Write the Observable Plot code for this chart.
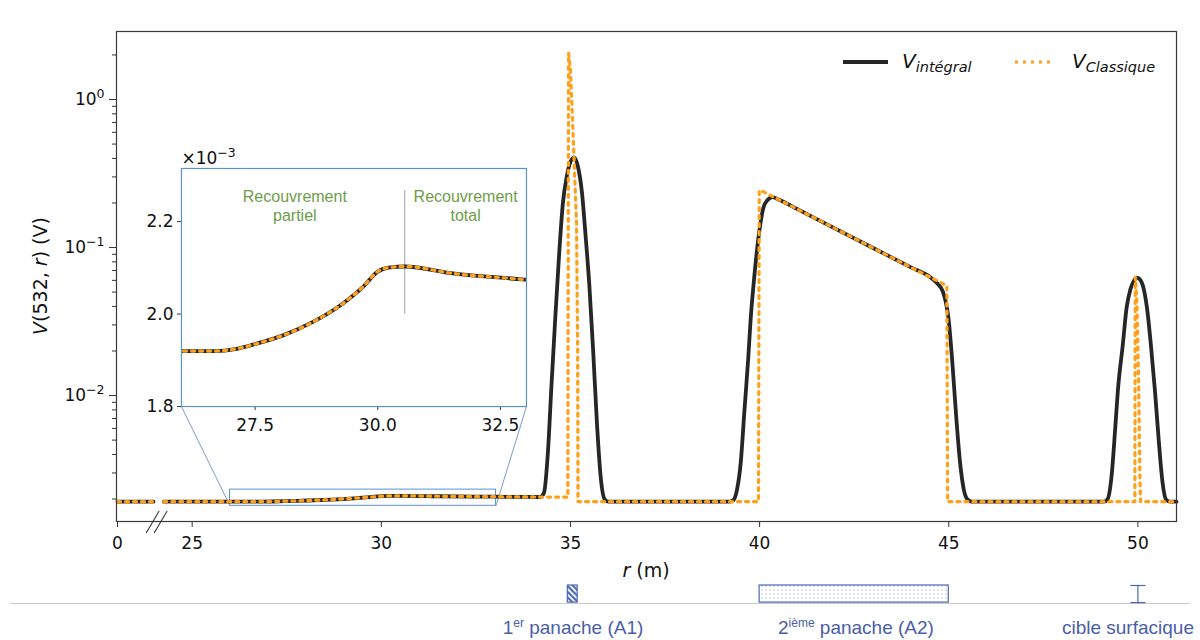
<!DOCTYPE html>
<html><head><meta charset="utf-8">
<script src="https://cdn.jsdelivr.net/npm/d3@7"></script>
<script src="https://cdn.jsdelivr.net/npm/@observablehq/plot@0.6"></script>
<style>
html,body{margin:0;padding:0;background:#fff;}
#wrap{position:relative;width:1200px;height:640px;overflow:hidden;background:#fff;}
#wrap svg{position:absolute;left:0;overflow:visible;background:transparent;}
</style></head><body><div id="wrap"></div>
<script>
// ---------------- data ----------------
// V_intégral (black solid); NaN marks the axis break
const r_integral = [0, 1, NaN, 24.25, 26.0, 26.65, 27.13, 27.53, 28.07, 28.68, 29.29, 29.70, 30.0, 30.25, 30.55, 31.53, 32.95, 34.0, 34.2,
  34.3, 34.4, 34.5, 34.6, 34.7, 34.8, 34.9, 35.0, 35.1, 35.2, 35.3, 35.4, 35.5, 35.6, 35.7, 35.8, 35.9, 36.0,
  39.2, 39.3, 39.4, 39.5, 39.6, 39.7, 39.76, 39.85, 39.97, 40.1, 40.2, 40.34, 40.5, 41.0, 42.0, 43.0, 44.0, 44.52, 44.7, 44.85, 45.0, 45.1, 45.2, 45.3, 45.4, 45.5, 45.6,
  49.1, 49.2, 49.3, 49.4, 49.47, 49.6, 49.7, 49.8, 49.9, 49.97, 50.05, 50.15, 50.24, 50.35, 50.45, 50.55, 50.65, 50.75, 50.85, 51.02];
const v_integral = [0.00192, 0.00192, NaN, 0.00192, 0.00192, 0.00192, 0.001925, 0.001936, 0.001954, 0.001983, 0.002023, 0.002059, 0.002092, 0.002101, 0.002103, 0.002088, 0.002075, 0.002065, 0.002062,
  0.0022, 0.004, 0.012, 0.034, 0.09, 0.2, 0.3, 0.38, 0.407, 0.35, 0.24, 0.12, 0.055, 0.02, 0.0065, 0.0028, 0.002, 0.00192,
  0.00192, 0.00196, 0.0023, 0.0035, 0.008, 0.018, 0.032, 0.06, 0.117, 0.186, 0.208, 0.219, 0.211, 0.1816, 0.1343, 0.0993, 0.0734, 0.0627, 0.057, 0.050, 0.032, 0.016, 0.007, 0.0035, 0.0023, 0.00198, 0.00192,
  0.00192, 0.002, 0.0028, 0.006, 0.0108, 0.022, 0.039, 0.052, 0.06, 0.0627, 0.061, 0.053, 0.039, 0.021, 0.0108, 0.005, 0.0026, 0.00197, 0.00192, 0.00192];

// V_Classique (orange dotted)
const r_classique = [0, 1, NaN, 24.25, 26.0, 26.65, 27.13, 27.53, 28.07, 28.68, 29.29, 29.70, 30.0, 30.25, 30.55, 31.53, 32.95, 34.0, 34.2, 34.93,
  34.95, 35.0, 35.08, 35.16, 35.19, 35.2, 39.97, 39.99, 40.03, 41.0, 42.0, 43.0, 44.0, 44.95, 44.97,
  49.92, 49.93, 49.97, 50.02, 50.05, 50.07, 51.02];
const v_classique = [0.00192, 0.00192, NaN, 0.00192, 0.00192, 0.00192, 0.001925, 0.001936, 0.001954, 0.001983, 0.002023, 0.002059, 0.002092, 0.002101, 0.002103, 0.002088, 0.002075, 0.002065, 0.002062, 0.00206,
  2.05, 1.6, 0.5, 0.145, 0.02, 0.00192, 0.00192, 0.243, 0.243, 0.1816, 0.1343, 0.0993, 0.0734, 0.0552, 0.00192,
  0.00192, 0.063, 0.045, 0.012, 0.003, 0.00192, 0.00192];

// axes
const xTicks = [0, 25, 30, 35, 40, 45, 50];
const yMajor = [1e-2, 1e-1, 1];
const yMinor = [2e-3,3e-3,4e-3,5e-3,6e-3,7e-3,8e-3,9e-3, 2e-2,3e-2,4e-2,5e-2,6e-2,7e-2,8e-2,9e-2, 2e-1,3e-1,4e-1,5e-1,6e-1,7e-1,8e-1,9e-1, 2];
const xDomain = [0, 1, 24.25, 51.02];          // broken axis: 0–1 then 24.25–51.02
const yDomain = [1.41e-3, 2.88];

// inset (zoom) region and its placement in main data coordinates
const insetX = [26, 33.03];
const insetY = [1.8e-3, 2.315e-3];
const insetXTicks = [27.5, 30.0, 32.5];
const insetYTicks = [1.8e-3, 2.0e-3, 2.2e-3];
const insetPlace = {r1: 24.717, r2: 33.837, vBottom: 8.43e-3, vTop: 0.342};
const transitionR = 30.55;
const transitionV = [2.0e-3, 2.2675e-3];
const insetNotes = [
  {r: 28.31, v: 2.2004e-3, text: "Recouvrement\npartiel"},
  {r: 31.79, v: 2.2004e-3, text: "Recouvrement\ntotal"}
];

// bottom schematic
const plumeA1 = [{r1: 34.93, r2: 35.19}];
const plumeA2 = [{r1: 40.0, r2: 45.0}];
const targetR = 50;
const schemLabels = [
  {r: 35.08, main: "1", sup: "er", rest: " panache (A1)"},
  {r: 42.56, main: "2", sup: "ième", rest: " panache (A2)"},
  {r: 49.75, main: "cible surfacique", sup: "", rest: ""}
];

// ---------------- styles ----------------
const dark = "#262626", orange = "#ffa01c", blue = "#5b93cf", green = "#6e9d4a", schemBlue = "#4d66b6", schemText = "#4a5ea8";
const dots = "3 5";
const integral = r_integral.map((r, i) => ({r, v: v_integral[i]}));
const classique = r_classique.map((r, i) => ({r, v: v_classique[i]}));
const xRange = [117, 153, 163.3, 1176];
const expFmt = d => "10^" + Math.round(Math.log10(d));
const baseStyle = {fontFamily: "DejaVu Sans", fontSize: "17px", color: "#111", background: "transparent", overflow: "visible"};

const wrap = document.getElementById("wrap");

// ---------------- main plot ----------------
const main = Plot.plot({
  width: 1200, height: 580,
  marginLeft: 116, marginRight: 24, marginTop: 31, marginBottom: 59,
  style: baseStyle,
  x: {type: "linear", domain: xDomain, range: xRange},
  y: {type: "log", domain: yDomain, range: [521, 31]},
  marks: [
    Plot.axisX({ticks: xTicks, tickSize: 6, tickPadding: 9, tickFormat: d => String(d), label: null, stroke: "#333"}),
    Plot.axisY({ticks: yMinor, tickSize: 4, tickFormat: () => "", label: null, stroke: "#333"}),
    Plot.axisY({ticks: yMajor, tickSize: 7, tickPadding: 5, tickFormat: expFmt, label: null, stroke: "#333"}),
    Plot.rect([{}], {x1: insetX[0], x2: insetX[1], y1: insetY[0], y2: insetY[1], fill: "none", stroke: blue, strokeWidth: 1}),
    Plot.link([
      {x1: insetX[0], y1: insetY[0], x2: insetPlace.r1, y2: insetPlace.vBottom},
      {x1: insetX[1], y1: insetY[0], x2: insetPlace.r2, y2: insetPlace.vBottom}
    ], {x1: "x1", y1: "y1", x2: "x2", y2: "y2", stroke: "#7d9cc9", strokeWidth: 1}),
    Plot.line(integral, {x: "r", y: "v", stroke: dark, strokeWidth: 3.8, curve: "monotone-x"}),
    Plot.line(classique, {x: "r", y: "v", stroke: orange, strokeWidth: 3.2, strokeDasharray: dots}),
    Plot.frame({stroke: "#3a3a3a", strokeWidth: 1.2})
  ]
});
main.style.top = "0px";
wrap.appendChild(main);

const sx = main.scale("x"), sy = main.scale("y");
const svgM = d3.select(main);

// power-of-ten tick labels with real superscripts
svgM.selectAll("text").each(function() {
  const s = this.textContent;
  const m = /^10\^(-?\d+)$/.exec(s);
  if (!m) return;
  const t = d3.select(this);
  t.text("10");
  t.append("tspan").attr("font-size", 12.5).attr("dy", -7).text(m[1].replace("-", "−"));
});

// axis break marks
const bx = (sx.apply(1) + sx.apply(24.25)) / 2;
[-5, 3].forEach(k => {
  svgM.append("line").attr("x1", bx + k - 7).attr("y1", 533).attr("x2", bx + k + 6).attr("y2", 511)
    .attr("stroke", "#333").attr("stroke-width", 1.1);
});

// y label
const yl = svgM.append("text").attr("transform", "translate(47,276) rotate(-90)")
  .attr("text-anchor", "middle").attr("font-family", "DejaVu Sans").attr("font-size", 19).attr("fill", "#111");
yl.append("tspan").attr("font-style", "italic").text("V");
yl.append("tspan").text("(532, ");
yl.append("tspan").attr("font-style", "italic").text("r");
yl.append("tspan").text(") (V)");

// x label
const xl = svgM.append("text").attr("x", (116 + 1176) / 2).attr("y", 577)
  .attr("text-anchor", "middle").attr("font-family", "DejaVu Sans").attr("font-size", 19).attr("fill", "#111");
xl.append("tspan").attr("font-style", "italic").text("r");
xl.append("tspan").text(" (m)");

// legend
const lg = svgM.append("g").attr("font-family", "DejaVu Sans").attr("fill", "#111").attr("text-anchor", "start");
lg.append("line").attr("x1", 843).attr("x2", 888).attr("y1", 62).attr("y2", 62).attr("stroke", dark).attr("stroke-width", 3.8);
const t1 = lg.append("text").attr("x", 902).attr("y", 68).attr("font-style", "italic").attr("text-anchor", "start");
t1.append("tspan").attr("font-size", 20).text("V");
t1.append("tspan").attr("font-size", 14.5).attr("dy", 4).text("intégral");
lg.append("line").attr("x1", 1015).attr("x2", 1053).attr("y1", 62).attr("y2", 62).attr("stroke", orange).attr("stroke-width", 3.2).attr("stroke-dasharray", dots);
const t2 = lg.append("text").attr("x", 1072).attr("y", 68).attr("font-style", "italic").attr("text-anchor", "start");
t2.append("tspan").attr("font-size", 20).text("V");
t2.append("tspan").attr("font-size", 14.5).attr("dy", 4).text("Classique");

// ---------------- inset ----------------
const L = sx.apply(insetPlace.r1), R = sx.apply(insetPlace.r2), T = sy.apply(insetPlace.vTop), B = sy.apply(insetPlace.vBottom);
const inIns = d => d.r >= 24 && d.r <= 34.3;
const inset = Plot.plot({
  width: 1200, height: 580,
  marginLeft: L, marginRight: 1200 - R, marginTop: T, marginBottom: 580 - B,
  style: baseStyle,
  x: {domain: insetX},
  y: {domain: insetY},
  marks: [
    Plot.frame({fill: "#fff", stroke: "none"}),
    Plot.axisX({ticks: insetXTicks, tickSize: 4, tickPadding: 8, tickFormat: d3.format(".1f"), label: null, stroke: "#333"}),
    Plot.axisY({ticks: insetYTicks, tickSize: 4, tickPadding: 4, tickFormat: d => (d * 1e3).toFixed(1), label: null, stroke: "#333"}),
    Plot.ruleX([transitionR], {y1: transitionV[0], y2: transitionV[1], stroke: "#a0a0a0", strokeWidth: 1}),
    Plot.text(insetNotes, {x: "r", y: "v", text: "text", fill: green, fontFamily: "Liberation Sans", fontSize: 16, lineAnchor: "bottom", lineHeight: 1.2}),
    Plot.line(integral.filter(inIns), {x: "r", y: "v", stroke: dark, strokeWidth: 3.8, curve: "monotone-x", clip: true}),
    Plot.line(classique.filter(inIns), {x: "r", y: "v", stroke: orange, strokeWidth: 3.2, strokeDasharray: dots, curve: "monotone-x", clip: true}),
    Plot.text(["×10^-3"], {frameAnchor: "top-left", text: d => d, textAnchor: "start", lineAnchor: "bottom", dy: -4, fontSize: 17, fill: "#111"}),
    Plot.frame({stroke: blue, strokeWidth: 1.2})
  ]
});
inset.style.top = "0px";
wrap.appendChild(inset);
d3.select(inset).selectAll("text").each(function() {
  if (this.textContent !== "×10^-3") return;
  const t = d3.select(this);
  t.text("×10");
  t.append("tspan").attr("font-size", 12.5).attr("dy", -7).text("−3");
});

// ---------------- bottom schematic ----------------
const schem = Plot.plot({
  width: 1200, height: 60,
  marginLeft: 10, marginRight: 10, marginTop: 5, marginBottom: 37,
  style: baseStyle,
  x: {type: "linear", domain: xDomain, range: xRange, axis: null},
  y: {domain: [0, 1], axis: null},
  marks: [
    Plot.ruleY([0], {stroke: "#c9c9c9", strokeWidth: 1}),
    Plot.rect(plumeA1, {x1: "r1", x2: "r2", y1: 0.05, y2: 1, fill: "url(#hatchA1)", stroke: schemBlue, strokeWidth: 1.2}),
    Plot.rect(plumeA2, {x1: "r1", x2: "r2", y1: 0.05, y2: 1, fill: "url(#dotsA2)", stroke: schemBlue, strokeWidth: 1.2}),
    Plot.ruleX([targetR], {y1: 0.05, y2: 1, stroke: schemBlue, strokeWidth: 1.2}),
    Plot.link([{a: targetR - 0.2, b: targetR + 0.2, y: 1}, {a: targetR - 0.2, b: targetR + 0.2, y: 0.05}], {x1: "a", x2: "b", y1: "y", y2: "y", stroke: schemBlue, strokeWidth: 1.2})
  ]
});
schem.style.top = "580px";
wrap.appendChild(schem);
const svgS = d3.select(schem);
svgS.insert("defs", ":first-child").html(
  `<pattern id="hatchA1" patternUnits="userSpaceOnUse" width="4" height="4" patternTransform="rotate(-45)"><rect width="4" height="4" fill="#fff"/><rect x="0" y="0" width="2.2" height="4" fill="${schemBlue}"/></pattern>` +
  `<pattern id="dotsA2" patternUnits="userSpaceOnUse" width="4" height="4"><rect width="4" height="4" fill="#fff"/><circle cx="2" cy="2" r="0.65" fill="#9fb0dc"/></pattern>`);
const ssx = schem.scale("x");
schemLabels.forEach(d => {
  const t = svgS.append("text").attr("x", ssx.apply(d.r)).attr("y", 54).attr("text-anchor", "middle")
    .attr("font-family", "Liberation Sans").attr("font-size", 19).attr("fill", schemText);
  t.append("tspan").text(d.main);
  if (d.sup) {
    t.append("tspan").attr("font-size", 12).attr("dy", -7).text(d.sup);
    t.append("tspan").attr("dy", 7).text(d.rest);
  }
});
</script></body></html>
